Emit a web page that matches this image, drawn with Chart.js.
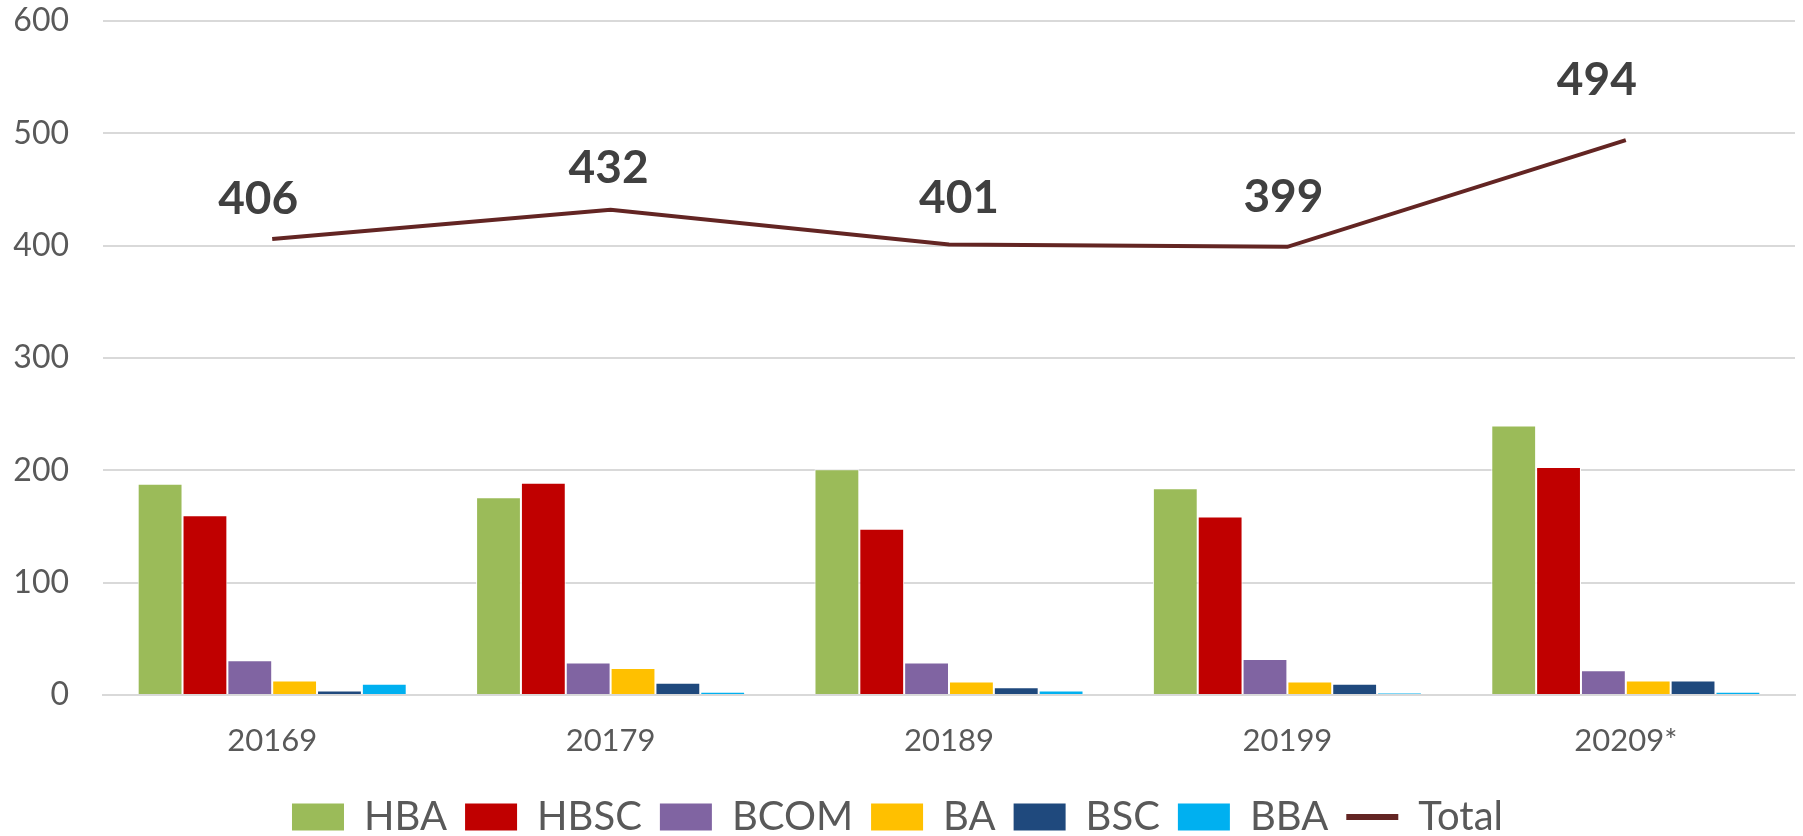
<!DOCTYPE html>
<html>
<head>
<meta charset="utf-8">
<script src="https://cdn.jsdelivr.net/npm/chart.js@4/dist/chart.umd.min.js"></script>
<style>
  html, body { margin: 0; padding: 0; background: #fff; }
  #wrap { width: 1803px; height: 836px; }
</style>
</head>
<body>
<div id="wrap"><canvas id="myChart" width="1803" height="836"></canvas></div>
<script>
// Categories (years) and series values
const years = ['20169', '20179', '20189', '20199', '20209*'];
const hba   = [188, 176, 201, 184, 240];
const hbsc  = [160, 189, 148, 159, 203];
const bcom  = [31, 29, 29, 32, 22];
const ba    = [13, 24, 12, 12, 13];
const bsc   = [4, 11, 7, 10, 13];
const bba   = [10, 3, 4, 2, 3];
const total = [406, 432, 401, 399, 494];
const yTicks = [0, 100, 200, 300, 400, 500, 600];

const FONT = 'Lato, "Noto Sans", sans-serif';

// draws the bold numbers above the Total line
const totalLabels = {
    id: 'totalLabels',
    afterDatasetsDraw(chart) {
        const ctx = chart.ctx;
        const meta = chart.getDatasetMeta(6);
        const shift = [[-14, -40], [-2, -42], [10, -46], [-4, -50], [-29, -60]];
        ctx.save();
        ctx.font = 'bold 46px ' + FONT;
        ctx.fillStyle = '#404040';
        ctx.textAlign = 'center';
        ctx.textBaseline = 'middle';
        meta.data.forEach((pt, i) => {
            ctx.fillText(total[i], pt.x + shift[i][0], pt.y + shift[i][1]);
        });
        ctx.restore();
    }
};

function bar(label, data, color) {
    return {
        type: 'bar',
        label: label,
        data: data,
        backgroundColor: color,
        borderColor: '#ffffff',
        borderWidth: 1,
        categoryPercentage: 0.795,
        barPercentage: 1.0,
        order: 2
    };
}

const ctx = document.getElementById('myChart').getContext('2d');
const myChart = new Chart(ctx, {
    data: {
        labels: years,
        datasets: [
            bar('HBA', hba, '#9BBB59'),
            bar('HBSC', hbsc, '#C00000'),
            bar('BCOM', bcom, '#8064A2'),
            bar('BA', ba, '#FFC000'),
            bar('BSC', bsc, '#1F497D'),
            bar('BBA', bba, '#00B0F0'),
            {
                type: 'line',
                label: 'Total',
                data: total,
                borderColor: '#632523',
                backgroundColor: '#632523',
                borderWidth: 4,
                pointRadius: 0,
                tension: 0,
                order: 1
            }
        ]
    },
    options: {
        responsive: false,
        animation: false,
        layout: { padding: { top: 21, right: 8, bottom: -11, left: 0 } },
        plugins: {
            tooltip: { enabled: false },
            legend: {
                position: 'bottom',
                labels: {
                    font: { family: FONT, size: 40 },
                    color: '#595959',
                    usePointStyle: true,
                    boxHeight: 27,
                    pointStyleWidth: 52,
                    padding: 18,
                    generateLabels(chart) {
                        return chart.data.datasets.map((ds, i) => ({
                            text: ds.label,
                            fillStyle: ds.backgroundColor,
                            strokeStyle: ds.type === 'line' ? ds.borderColor : ds.backgroundColor,
                            lineWidth: ds.type === 'line' ? 6 : 0,
                            pointStyle: ds.type === 'line' ? 'line' : 'rect',
                            fontColor: '#595959',
                            datasetIndex: i
                        }));
                    }
                }
            }
        },
        scales: {
            x: {
                afterFit(axis) { axis.height = 84; },
                grid: { display: false, drawTicks: false },
                border: { display: true, color: '#d9d9d9', width: 2 },
                ticks: { font: { family: FONT, size: 31 }, color: '#595959', padding: 27 }
            },
            y: {
                min: 0,
                max: 600,
                afterBuildTicks(axis) { axis.ticks = yTicks.map(v => ({ value: v })); },
                afterFit(axis) { axis.width = 103; axis.paddingTop = 0; axis.paddingBottom = 0; },
                grid: { color: '#d9d9d9', lineWidth: 2, drawTicks: false },
                border: { display: false },
                ticks: { font: { family: FONT, size: 32 }, color: '#595959', padding: 34 }
            }
        }
    },
    plugins: [totalLabels]
});
</script>
</body>
</html>
